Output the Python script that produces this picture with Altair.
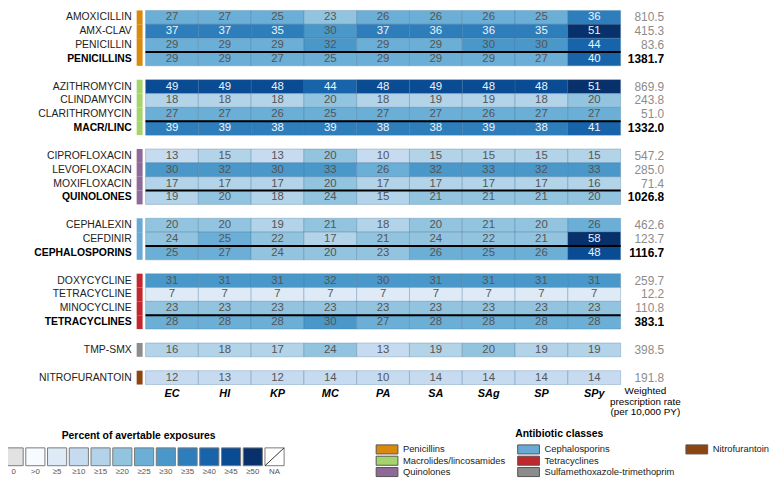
import altair as alt
import pandas as pd

FONT = "Liberation Sans"

organisms = ["EC", "HI", "KP", "MC", "PA", "SA", "SAg", "SP", "SPy"]

drugs = ["AMOXICILLIN", "AMX-CLAV", "PENICILLIN", "PENICILLINS",
         "AZITHROMYCIN", "CLINDAMYCIN", "CLARITHROMYCIN", "MACR/LINC",
         "CIPROFLOXACIN", "LEVOFLOXACIN", "MOXIFLOXACIN", "QUINOLONES",
         "CEPHALEXIN", "CEFDINIR", "CEPHALOSPORINS",
         "DOXYCYCLINE", "TETRACYCLINE", "MINOCYCLINE", "TETRACYCLINES",
         "TMP-SMX", "NITROFURANTOIN"]

drug_classes = (["Penicillins"] * 4 + ["Macrolides/lincosamides"] * 4 +
                ["Quinolones"] * 4 + ["Cephalosporins"] * 3 +
                ["Tetracyclines"] * 4 +
                ["Sulfamethoxazole-trimethoprim", "Nitrofurantoin"])

summary_rows = ["PENICILLINS", "MACR/LINC", "QUINOLONES", "CEPHALOSPORINS", "TETRACYCLINES"]

percent_values = [
    [27, 27, 25, 23, 26, 26, 26, 25, 36],
    [37, 37, 35, 30, 37, 36, 36, 35, 51],
    [29, 29, 29, 32, 29, 29, 30, 30, 44],
    [29, 29, 27, 25, 29, 29, 29, 27, 40],
    [49, 49, 48, 44, 48, 49, 48, 48, 51],
    [18, 18, 18, 20, 18, 19, 19, 18, 20],
    [27, 27, 26, 25, 27, 27, 26, 27, 27],
    [39, 39, 38, 39, 38, 38, 39, 38, 41],
    [13, 15, 13, 20, 10, 15, 15, 15, 15],
    [30, 32, 30, 33, 26, 32, 33, 32, 33],
    [17, 17, 17, 20, 17, 17, 17, 17, 16],
    [19, 20, 18, 24, 15, 21, 21, 21, 20],
    [20, 20, 19, 21, 18, 20, 21, 20, 26],
    [24, 25, 22, 17, 21, 24, 22, 21, 58],
    [25, 27, 24, 20, 23, 26, 25, 26, 48],
    [31, 31, 31, 32, 30, 31, 31, 31, 31],
    [7, 7, 7, 7, 7, 7, 7, 7, 7],
    [23, 23, 23, 23, 23, 23, 23, 23, 23],
    [28, 28, 28, 30, 27, 28, 28, 28, 28],
    [16, 18, 17, 24, 13, 19, 20, 19, 19],
    [12, 13, 12, 14, 10, 14, 14, 14, 14],
]

rates = [810.5, 415.3, 83.6, 1381.7,
         869.9, 243.8, 51.0, 1332.0,
         547.2, 285.0, 71.4, 1026.8,
         462.6, 123.7, 1116.7,
         259.7, 12.2, 110.8, 383.1,
         398.5, 191.8]

class_names = ["Penicillins", "Macrolides/lincosamides", "Quinolones",
               "Cephalosporins", "Tetracyclines", "Sulfamethoxazole-trimethoprim",
               "Nitrofurantoin"]
class_colors = ["#d98a0c", "#a6d46c", "#8d6a97", "#6aa9d6", "#c1272d", "#8c8c8c", "#8b4513"]

pct_labels = ["0", ">0", "≥5", "≥10", "≥15", "≥20", "≥25", "≥30", "≥35", "≥40", "≥45", "≥50", "NA"]
pct_colors = ["#e2e2e2", "#f7fbff", "#deebf7", "#c6dbef", "#b2d3e8", "#93c4df",
              "#6baed6", "#4a98c9", "#2e7ebc", "#1764ab", "#0a4c93", "#08306b", "#ffffff"]
thresholds = [1e-9, 5, 10, 15, 20, 25, 30, 35, 40, 45, 50]

pct_title = "Percent  of avertable exposures"
cls_title = "Antibiotic classes"
rate_title = "Weighted\nprescription rate\n(per 10,000 PY)"

# ---------- tables ----------
row_order = []
prev = None
g = 0
for d, c in zip(drugs, drug_classes):
    if prev is not None and c != prev:
        row_order.append(f"gap{g}")
        g += 1
    row_order.append(d)
    prev = c

cells_df = pd.DataFrame([
    {"drug": d, "organism": o, "value": percent_values[i][j]}
    for i, d in enumerate(drugs) for j, o in enumerate(organisms)
])
rows_df = pd.DataFrame({
    "drug": drugs,
    "cls": drug_classes,
    "rate": rates,
    "summary": [d in summary_rows for d in drugs],
})

W, H = 480, 378

x_axis = alt.Axis(title=None, orient="bottom", domain=False, ticks=False, grid=False,
                  labelPadding=3, labelFont=FONT, labelFontSize=11, labelFontWeight="bold",
                  labelFontStyle="italic", labelColor="black", labelAngle=0)
xscale = alt.Scale(domain=organisms, paddingInner=0, paddingOuter=0)
yscale = alt.Scale(domain=row_order, paddingInner=0, paddingOuter=0)
xenc = alt.X("organism:N", scale=xscale, axis=x_axis)
yenc = alt.Y("drug:N", scale=yscale, axis=None)

cells = alt.Chart(cells_df).mark_rect(
    stroke="#3d6f99", strokeWidth=0.6, strokeOpacity=0.5
).encode(
    x=xenc, y=yenc,
    color=alt.Color("value:Q", scale=alt.Scale(type="threshold", domain=thresholds,
                                               range=pct_colors[:12]), legend=None),
)

cell_text = alt.Chart(cells_df).mark_text(font=FONT, fontSize=11.5, baseline="middle").encode(
    x=xenc, y=yenc, text="value:Q",
    color=alt.condition("datum.value >= 35", alt.value("#eef3f8"), alt.value("#555555")),
)

rules = alt.Chart(rows_df).transform_filter("datum.summary").mark_rule(
    color="black", strokeWidth=2
).encode(
    y=alt.Y("drug:N", scale=yscale, axis=None, bandPosition=0),
    x=alt.value(0), x2=alt.value(W),
)

class_bars = alt.Chart(rows_df).mark_rect().encode(
    y=yenc, x=alt.value(-9), x2=alt.value(-3),
    color=alt.Color("cls:N", scale=alt.Scale(domain=class_names, range=class_colors), legend=None),
)

labels_norm = alt.Chart(rows_df).transform_filter("!datum.summary").mark_text(
    align="right", baseline="middle", font=FONT, fontSize=10.5, color="#222222"
).encode(y=yenc, x=alt.value(-14), text="drug:N")

labels_bold = alt.Chart(rows_df).transform_filter("datum.summary").mark_text(
    align="right", baseline="middle", font=FONT, fontSize=10.5, fontWeight="bold", color="black"
).encode(y=yenc, x=alt.value(-14), text="drug:N")

rates_norm = alt.Chart(rows_df).transform_filter("!datum.summary").mark_text(
    align="right", baseline="middle", font=FONT, fontSize=12, color="#8c8c8c"
).encode(y=yenc, x=alt.value(524), text=alt.Text("rate:Q", format=".1f"))

rates_bold = alt.Chart(rows_df).transform_filter("datum.summary").mark_text(
    align="right", baseline="middle", font=FONT, fontSize=12, fontWeight="bold", color="black"
).encode(y=yenc, x=alt.value(524), text=alt.Text("rate:Q", format=".1f"))

main = alt.layer(cells, cell_text, rules, class_bars, labels_norm, labels_bold,
                 rates_norm, rates_bold).resolve_scale(color="independent")

rate_label = alt.Chart(pd.DataFrame({"t": [rate_title]})).mark_text(
    lineBreak="\n", baseline="top", align="center", font=FONT, fontSize=10,
    lineHeight=10.5, color="black"
).encode(x=alt.value(505), y=alt.value(380), text="t:N")

# ---------- percent legend ----------
pct_df = pd.DataFrame({"label": pct_labels})
px_scale = alt.Scale(domain=pct_labels, range=[-143, 140], paddingInner=0.12, paddingOuter=0)
px = alt.X("label:N", scale=px_scale, axis=None)

pct_boxes = alt.Chart(pct_df).mark_rect(stroke="#7a7a7a", strokeWidth=1).encode(
    x=px, y=alt.value(442), y2=alt.value(460),
    color=alt.Color("label:N", scale=alt.Scale(domain=pct_labels, range=pct_colors), legend=None),
)
pct_text = alt.Chart(pct_df).mark_text(font=FONT, fontSize=8, color="#555555", baseline="middle").encode(
    x=px, y=alt.value(466), text="label:N"
)
pct_diag = alt.Chart(pct_df).transform_filter("datum.label == 'NA'").mark_rule(
    color="#333333", strokeWidth=1
).encode(
    x=alt.X("label:N", scale=px_scale, axis=None, bandPosition=0),
    x2=alt.X2("label", bandPosition=1),
    y=alt.value(460), y2=alt.value(442),
)
pct_group = alt.layer(pct_boxes, pct_text, pct_diag)

pct_title_mark = alt.Chart(pd.DataFrame({"t": [pct_title]})).mark_text(
    font=FONT, fontSize=10.5, fontWeight="bold", color="black", baseline="middle"
).encode(x=alt.value(-7), y=alt.value(430), text="t:N")

# ---------- class legend ----------
cls_df = pd.DataFrame({
    "cls": class_names,
    "col": [i // 3 for i in range(len(class_names))],
    "row": [i % 3 for i in range(len(class_names))],
})
cy = alt.Y("row:O", scale=alt.Scale(domain=[0, 1, 2], range=[439, 471], paddingInner=0.2,
                                    paddingOuter=0), axis=None)
cls_color = alt.Color("cls:N", scale=alt.Scale(domain=class_names, range=class_colors), legend=None)
col_left = [233, 376, 546]
cls_layers = []
for c, left in enumerate(col_left):
    sub = alt.Chart(cls_df).transform_filter(f"datum.col == {c}")
    cls_layers.append(sub.mark_rect(stroke="#555555", strokeWidth=1).encode(
        y=cy, x=alt.value(left), x2=alt.value(left + 22), color=cls_color))
    cls_layers.append(sub.mark_text(align="left", baseline="middle", font=FONT, fontSize=9.5,
                                    color="#222222").encode(
        y=cy, x=alt.value(left + 27), text="cls:N"))
cls_group = alt.layer(*cls_layers)

cls_title_mark = alt.Chart(pd.DataFrame({"t": [cls_title]})).mark_text(
    font=FONT, fontSize=10.5, fontWeight="bold", color="black", baseline="middle"
).encode(x=alt.value(418), y=alt.value(428), text="t:N")

chart = alt.layer(
    main, rate_label, pct_group, pct_title_mark, cls_group, cls_title_mark
).resolve_scale(
    x="independent", y="independent", color="independent"
).properties(
    width=W, height=H,
    padding={"left": 139, "top": 0, "right": 156, "bottom": 94},
    autosize=alt.AutoSizeParams(type="none"),
).configure_view(stroke=None)

chart.save("out.html", embed_options={"renderer": "svg", "actions": False})
